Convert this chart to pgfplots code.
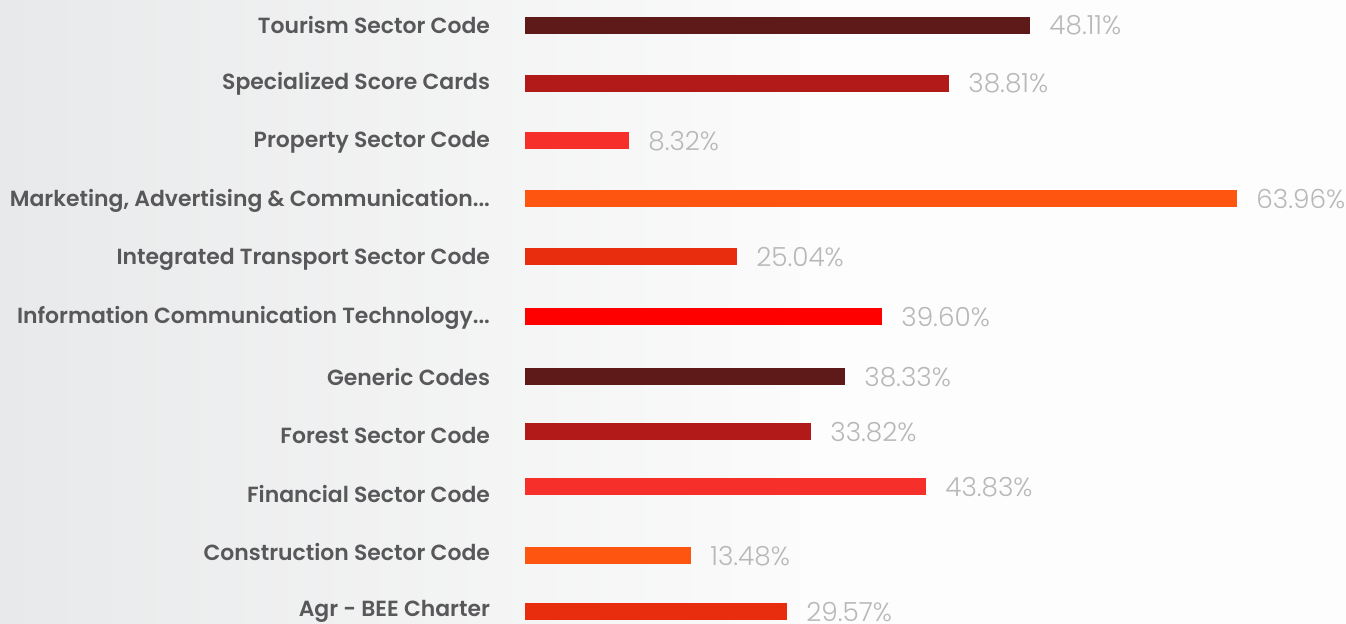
\documentclass[border=0pt]{standalone}
\usepackage{pgfplots}
\pgfplotsset{compat=1.18}
\usepackage{fontspec}
\setmainfont{Poppins}[BoldFont=* SemiBold]
\newfontfamily\valfont{Poppins}[UprightFont=* Light]
\definecolor{cA}{HTML}{5E1A18}
\definecolor{cB}{HTML}{B21A1A}
\definecolor{cC}{HTML}{F72F2A}
\definecolor{cD}{HTML}{FE5510}
\definecolor{cE}{HTML}{E82C0E}
\definecolor{cF}{HTML}{FF0000}
\definecolor{lab}{HTML}{58585A}
\definecolor{val}{HTML}{B8B8B8}
\definecolor{bgL}{HTML}{E8E9EA}
\definecolor{bgM}{HTML}{FBFBFB}
\newcommand{\dotsx}{.{}.{}.}
\begin{document}
\begin{tikzpicture}
\path[use as bounding box] (-262.5bp,0) rectangle (410.5bp,312bp);
\clip (-262.5bp,0) rectangle (410.5bp,312bp);
\shade[left color=bgL, right color=bgM] (-262.5bp,0) rectangle (137.5bp,312bp);
\fill[bgM!60!white] (137.5bp,0) rectangle (410.5bp,312bp);
\begin{axis}[
  anchor=south west, at={(0,0)},
  scale only axis, width=410.5bp, height=312bp,
  xmin=0, xmax=73.75, ymin=0, ymax=624,
  xbar, bar width=8.5bp, bar shift=0pt,
  axis line style={draw=none},
  major tick length=0pt,
  xtick=\empty,
  ytick={13,71.6,130.2,188.8,247.4,306,364.6,423.2,481.8,540.4,599},
  yticklabels={Agr - BEE Charter, Construction Sector Code, Financial Sector Code, Forest Sector Code, Generic Codes, {Information Communication Technology\dotsx}, Integrated Transport Sector Code, {Marketing, Advertising \& Communication\dotsx}, Property Sector Code, Specialized Score Cards, Tourism Sector Code},
  yticklabel style={font=\fontsize{11}{13}\selectfont\bfseries, text=lab, xshift=-14bp},
  point meta=explicit symbolic,
  nodes near coords,
  nodes near coords style={font=\fontsize{13.2}{15}\selectfont\valfont, text=val, anchor=west, inner sep=0pt, xshift=9.5bp},
  clip=false,
]
\addplot[draw=none, fill=cE] coordinates {(23.54,12.3) [29.57\%]};
\addplot[draw=none, fill=cD] coordinates {(14.91,68.3) [13.48\%]};
\addplot[draw=none, fill=cC] coordinates {(36.02,137) [43.83\%]};
\addplot[draw=none, fill=cB] coordinates {(25.69,192) [33.82\%]};
\addplot[draw=none, fill=cA] coordinates {(28.75,247) [38.33\%]};
\addplot[draw=none, fill=cF] coordinates {(32.07,307) [39.60\%]};
\addplot[draw=none, fill=cE] coordinates {(19.04,367) [25.04\%]};
\addplot[draw=none, fill=cD] coordinates {(63.96,425) [63.96\%]};
\addplot[draw=none, fill=cC] coordinates {(9.34,483) [8.32\%]};
\addplot[draw=none, fill=cB] coordinates {(38.09,540.7) [38.81\%]};
\addplot[draw=none, fill=cA] coordinates {(45.37,598.7) [48.11\%]};
\end{axis}
\end{tikzpicture}
\end{document}
